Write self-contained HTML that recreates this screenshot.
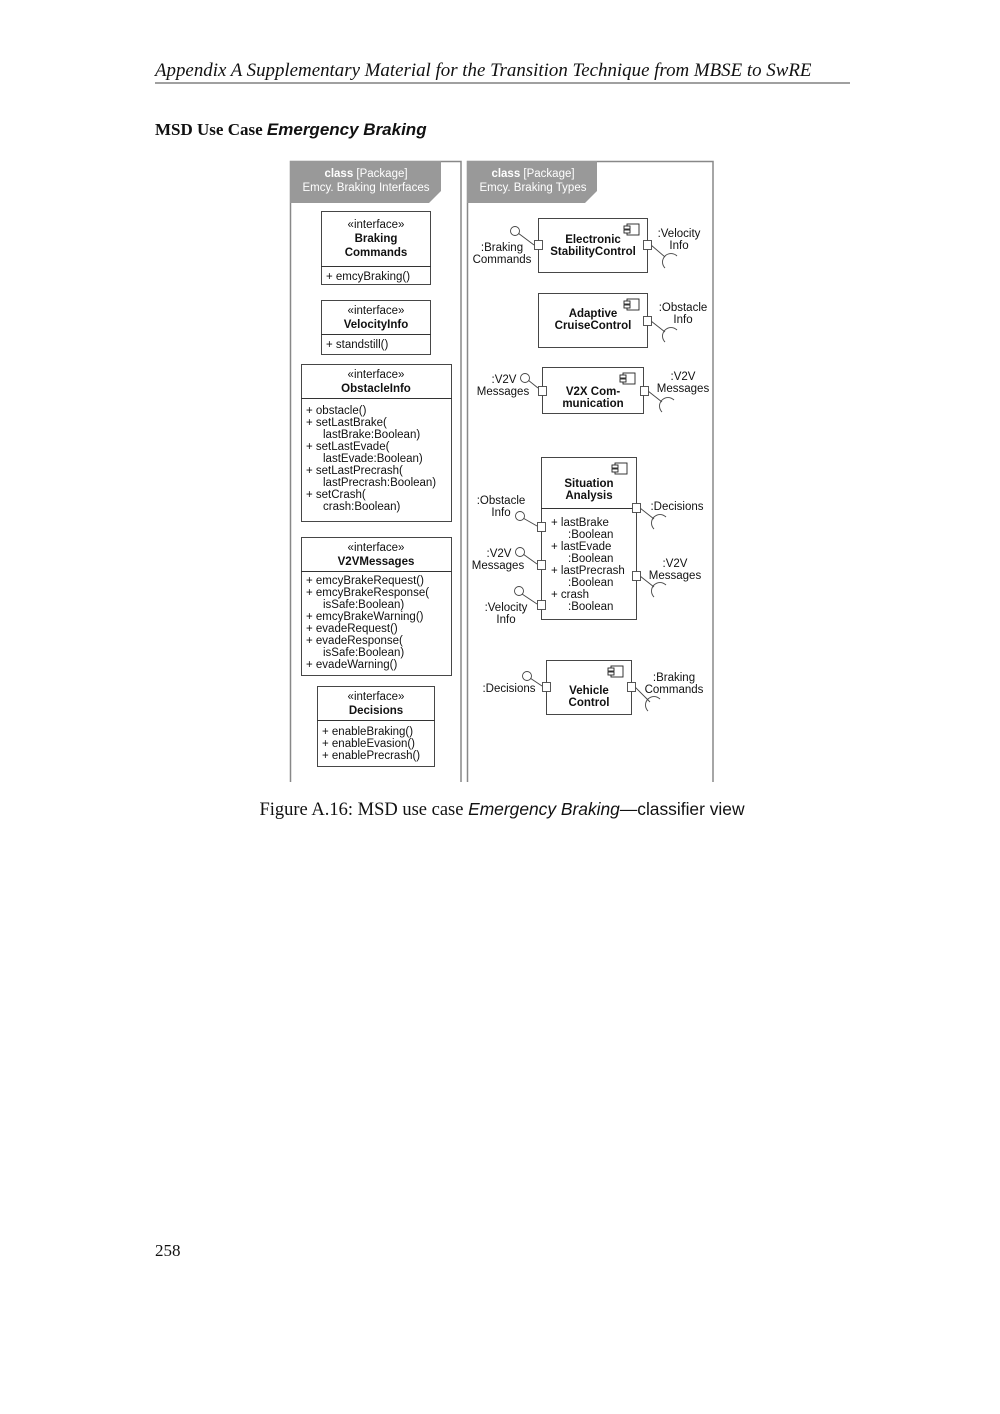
<!DOCTYPE html>
<html><head><meta charset="utf-8"><style>
body{margin:0;background:#fff}
svg{display:block}
text{font-family:"Liberation Sans",Arial,sans-serif;font-size:11.5px;fill:#111}
.b{font-weight:bold}
.s{font-family:"Liberation Serif",serif}
</style></head><body>
<svg width="1000" height="1414" viewBox="0 0 1000 1414" xmlns="http://www.w3.org/2000/svg">
<defs>
<g id="ci"><rect x="0" y="0" width="12" height="11" fill="#fff" stroke="#222" stroke-width="0.9"/><rect x="-3" y="2" width="6" height="3" fill="#fff" stroke="#222" stroke-width="0.9"/><rect x="-3" y="6" width="6" height="3" fill="#fff" stroke="#222" stroke-width="0.9"/></g>
</defs>
<text x="155" y="76" class="s" style="font-size:18.9px;font-style:italic">Appendix A  Supplementary Material for the Transition Technique from MBSE to SwRE</text>
<line x1="155" y1="83" x2="850" y2="83" stroke="#000" stroke-width="0.8"/>
<text x="155" y="135" class="s" style="font-size:17px;font-weight:bold">MSD Use Case <tspan style="font-family:'Liberation Sans',sans-serif;font-style:italic">Emergency Braking</tspan></text>

<g fill="none" stroke="#888" stroke-width="1.5">
<path d="M290.5 782V161.5H461V782"/>
<path d="M467.5 782V161.5H713V782"/>
</g>
<path d="M290 161H441V191L429 203H290Z" fill="#999"/>
<path d="M467 161H597V191L585 203H467Z" fill="#999"/>
<text x="366" y="177" text-anchor="middle" style="fill:#fff"><tspan class="b" style="fill:#fff">class</tspan> [Package]</text>
<text x="366" y="191" text-anchor="middle" style="fill:#fff">Emcy. Braking Interfaces</text>
<text x="533" y="177" text-anchor="middle" style="fill:#fff"><tspan class="b" style="fill:#fff">class</tspan> [Package]</text>
<text x="533" y="191" text-anchor="middle" style="fill:#fff">Emcy. Braking Types</text>

<g fill="#fff" stroke="#333" stroke-width="0.9">
<rect x="321.5" y="211.5" width="109" height="73"/><line x1="321" y1="266.5" x2="431" y2="266.5"/>
<rect x="321.5" y="300.5" width="109" height="54"/><line x1="321" y1="334.5" x2="431" y2="334.5"/>
<rect x="301.5" y="364.5" width="150" height="157"/><line x1="301" y1="398.5" x2="452" y2="398.5"/>
<rect x="301.5" y="537.5" width="150" height="138"/><line x1="301" y1="571.5" x2="452" y2="571.5"/>
<rect x="317.5" y="686.5" width="117" height="80"/><line x1="317" y1="720.5" x2="435" y2="720.5"/>
</g>
<g text-anchor="middle">
<text x="376" y="228">«interface»</text><text x="376" y="242" class="b">Braking</text><text x="376" y="256" class="b">Commands</text>
<text x="376" y="314">«interface»</text><text x="376" y="328" class="b">VelocityInfo</text>
<text x="376" y="378">«interface»</text><text x="376" y="392" class="b">ObstacleInfo</text>
<text x="376" y="551">«interface»</text><text x="376" y="565" class="b">V2VMessages</text>
<text x="376" y="700">«interface»</text><text x="376" y="714" class="b">Decisions</text>
</g>
<text x="326" y="280">+ emcyBraking()</text>
<text x="326" y="348">+ standstill()</text>
<g>
<text x="306" y="414">+ obstacle()</text>
<text x="306" y="426">+ setLastBrake(</text>
<text x="323" y="438">lastBrake:Boolean)</text>
<text x="306" y="450">+ setLastEvade(</text>
<text x="323" y="462">lastEvade:Boolean)</text>
<text x="306" y="474">+ setLastPrecrash(</text>
<text x="323" y="486">lastPrecrash:Boolean)</text>
<text x="306" y="498">+ setCrash(</text>
<text x="323" y="510">crash:Boolean)</text>
<text x="306" y="584">+ emcyBrakeRequest()</text>
<text x="306" y="596">+ emcyBrakeResponse(</text>
<text x="323" y="608">isSafe:Boolean)</text>
<text x="306" y="620">+ emcyBrakeWarning()</text>
<text x="306" y="632">+ evadeRequest()</text>
<text x="306" y="644">+ evadeResponse(</text>
<text x="323" y="656">isSafe:Boolean)</text>
<text x="306" y="668">+ evadeWarning()</text>
<text x="322" y="735">+ enableBraking()</text>
<text x="322" y="747">+ enableEvasion()</text>
<text x="322" y="759">+ enablePrecrash()</text>
</g>

<g fill="#fff" stroke="#333" stroke-width="0.9">
<rect x="538.5" y="218.5" width="109" height="54"/>
<rect x="538.5" y="293.5" width="109" height="54"/>
<rect x="542.5" y="367.5" width="101" height="46"/>
<rect x="541.5" y="457.5" width="95" height="162"/><line x1="541" y1="508.5" x2="637" y2="508.5"/>
<rect x="546.5" y="660.5" width="85" height="54"/>
</g>
<use href="#ci" x="627" y="224"/><use href="#ci" x="627" y="299"/><use href="#ci" x="623" y="373"/><use href="#ci" x="615" y="463"/><use href="#ci" x="611" y="666"/>
<g text-anchor="middle" class="b">
<text x="593" y="243" class="b">Electronic</text><text x="593" y="255" class="b">StabilityControl</text>
<text x="593" y="317" class="b">Adaptive</text><text x="593" y="329" class="b">CruiseControl</text>
<text x="593" y="395" class="b">V2X Com-</text><text x="593" y="407" class="b">munication</text>
<text x="589" y="487" class="b">Situation</text><text x="589" y="499" class="b">Analysis</text>
<text x="589" y="694" class="b">Vehicle</text><text x="589" y="706" class="b">Control</text>
</g>
<text x="551" y="526">+ lastBrake</text><text x="568" y="538">:Boolean</text>
<text x="551" y="550">+ lastEvade</text><text x="568" y="562">:Boolean</text>
<text x="551" y="574">+ lastPrecrash</text><text x="568" y="586">:Boolean</text>
<text x="551" y="598">+ crash</text><text x="568" y="610">:Boolean</text>

<g fill="#fff" stroke="#444" stroke-width="0.9">
<line x1="534" y1="245" x2="518" y2="233"/><circle cx="515" cy="231" r="4.5"/><rect x="534.5" y="240.5" width="8" height="9"/>
<line x1="651" y1="245" x2="665" y2="257"/><path d="M677 256a8 8 0 0 0-12 12" fill="none"/><rect x="643.5" y="240.5" width="8" height="9"/>
<line x1="651" y1="321" x2="665" y2="332"/><path d="M677 330a8 8 0 0 0-12 12" fill="none"/><rect x="643.5" y="316.5" width="8" height="9"/>
<line x1="538" y1="388" x2="528" y2="380"/><circle cx="525" cy="378" r="4.5"/><rect x="538.5" y="386.5" width="8" height="9"/>
<line x1="648" y1="391" x2="662" y2="402"/><path d="M674 400a8 8 0 0 0-12 12" fill="none"/><rect x="640.5" y="386.5" width="8" height="9"/>
<line x1="640" y1="508" x2="654" y2="519"/><path d="M666 517a8 8 0 0 0-12 12" fill="none"/><rect x="632.5" y="503.5" width="8" height="9"/>
<line x1="640" y1="576" x2="654" y2="587"/><path d="M666 585a8 8 0 0 0-12 12" fill="none"/><rect x="632.5" y="571.5" width="8" height="9"/>
<line x1="537" y1="526" x2="523" y2="518"/><circle cx="520" cy="516" r="4.5"/><rect x="537.5" y="522.5" width="8" height="9"/>
<line x1="537" y1="564" x2="523" y2="554"/><circle cx="520" cy="552" r="4.5"/><rect x="537.5" y="560.5" width="8" height="9"/>
<line x1="537" y1="604" x2="522" y2="594"/><circle cx="519" cy="591" r="4.5"/><rect x="537.5" y="600.5" width="8" height="9"/>
<line x1="542" y1="686" x2="530" y2="678"/><circle cx="527" cy="676" r="4.5"/><rect x="542.5" y="682.5" width="8" height="9"/>
<line x1="635" y1="687" x2="650" y2="702"/><path d="M660 699a8 8 0 0 0-12 12" fill="none"/><rect x="627.5" y="682.5" width="8" height="9"/>
</g>
<g text-anchor="middle">
<text x="502" y="251">:Braking</text><text x="502" y="263">Commands</text>
<text x="679" y="237">:Velocity</text><text x="679" y="249">Info</text>
<text x="683" y="311">:Obstacle</text><text x="683" y="323">Info</text>
<text x="504" y="383">:V2V</text><text x="503" y="395">Messages</text>
<text x="683" y="380">:V2V</text><text x="683" y="392">Messages</text>
<text x="501" y="504">:Obstacle</text><text x="501" y="516">Info</text>
<text x="499" y="557">:V2V</text><text x="498" y="569">Messages</text>
<text x="506" y="611">:Velocity</text><text x="506" y="623">Info</text>
<text x="677" y="510">:Decisions</text>
<text x="675" y="567">:V2V</text><text x="675" y="579">Messages</text>
<text x="509" y="692">:Decisions</text>
<text x="674" y="681">:Braking</text><text x="674" y="693">Commands</text>
</g>

<text x="502" y="815" text-anchor="middle" class="s" style="font-size:18.5px">Figure A.16: MSD use case <tspan style="font-family:'Liberation Sans',sans-serif;font-style:italic;font-size:17.4px">Emergency Braking</tspan><tspan style="font-family:'Liberation Sans',sans-serif;font-size:17.4px">—classifier view</tspan></text>
<text x="155" y="1256" class="s" style="font-size:17px">258</text>
</svg>
</body></html>
